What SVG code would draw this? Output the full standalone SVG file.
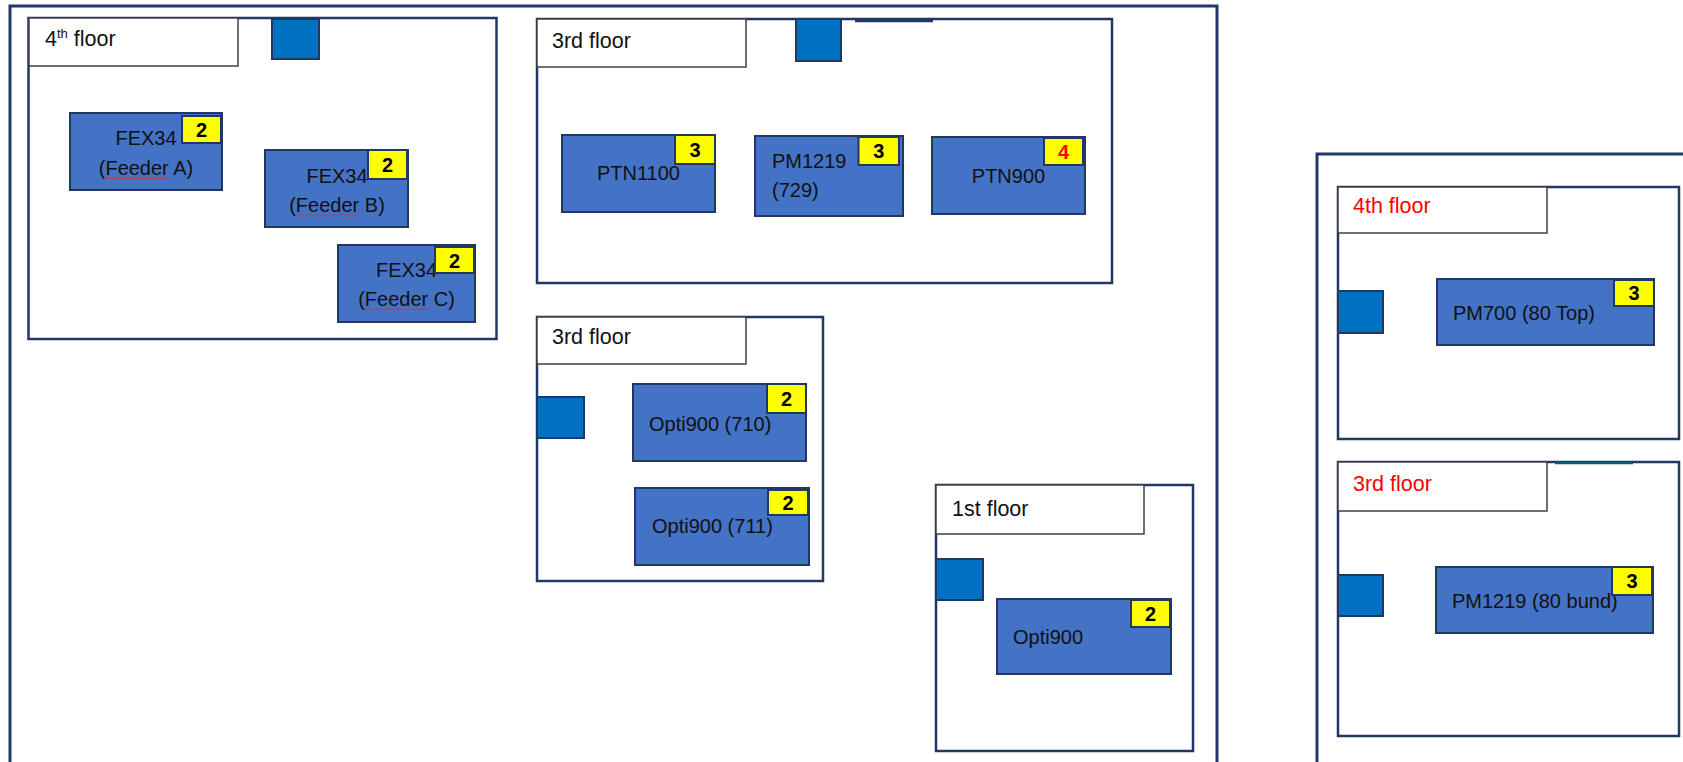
<svg xmlns="http://www.w3.org/2000/svg" width="1683" height="762" viewBox="0 0 1683 762">
<style>
.frame{fill:none;stroke:#1F3864;stroke-width:3}
.floor{fill:#fff;stroke:#1F3864;stroke-width:2.5}
.lbl{fill:#fff;stroke:#404040;stroke-width:1.5}
.sq{fill:#0070C0;stroke:#1F3864;stroke-width:2}
.eq{fill:#4472C4;stroke:#1F3864;stroke-width:2}
.bdg{fill:#FFFF00;stroke:#1F3864;stroke-width:2}
.t{font-family:"Liberation Sans",Arial,sans-serif;font-size:20px;fill:#111}
.lt{font-family:"Liberation Sans",Arial,sans-serif;font-size:21.5px;fill:#111}
.n{font-family:"Liberation Sans",Arial,sans-serif;font-size:20px;font-weight:bold;fill:#000;text-anchor:middle}
.c{text-anchor:middle}
.red{fill:#FF0000}
.sqg{fill:none;stroke:#E03030;stroke-width:1}
</style>
<rect class="frame" x="10" y="6" width="1207" height="800"/>
<rect class="frame" x="1317" y="154" width="420" height="700"/>

<g id="floor4">
<rect class="floor" x="28.5" y="18" width="468" height="321"/>
<rect class="lbl" x="29" y="18" width="209" height="48"/>
<text class="lt" x="45" y="46">4<tspan font-size="13" dy="-8">th</tspan><tspan dy="8"> floor</tspan></text>
<rect class="sq" x="272" y="19" width="47" height="40"/>
</g>
<g id="fex34a">
<rect class="eq" x="70" y="113" width="152" height="77"/>
<text class="t c" x="146" y="145">FEX34</text>
<text class="t c" x="146" y="175">(Feeder A)</text>
<path class="sqg" d="M104 177.5 l2,1.5 2,-1.5 2,1.5 2,-1.5 2,1.5 2,-1.5 2,1.5 2,-1.5 2,1.5 2,-1.5 2,1.5 2,-1.5 2,1.5 2,-1.5 2,1.5 2,-1.5 2,1.5 2,-1.5 2,1.5 2,-1.5 2,1.5 2,-1.5 2,1.5 2,-1.5 2,1.5 2,-1.5 2,1.5 2,-1.5 2,1.5 2,-1.5 2,1.5 2,-1.5"/>
<rect class="bdg" x="182" y="116" width="39" height="27"/>
<text class="n" x="201.5" y="137">2</text>
</g>
<g id="fex34b">
<rect class="eq" x="265" y="150" width="143" height="77"/>
<text class="t c" x="337" y="183">FEX34</text>
<text class="t c" x="337" y="212">(Feeder B)</text>
<path class="sqg" d="M295 214.5 l2,1.5 2,-1.5 2,1.5 2,-1.5 2,1.5 2,-1.5 2,1.5 2,-1.5 2,1.5 2,-1.5 2,1.5 2,-1.5 2,1.5 2,-1.5 2,1.5 2,-1.5 2,1.5 2,-1.5 2,1.5 2,-1.5 2,1.5 2,-1.5 2,1.5 2,-1.5 2,1.5 2,-1.5 2,1.5 2,-1.5 2,1.5 2,-1.5 2,1.5 2,-1.5"/>
<rect class="bdg" x="368" y="150" width="39" height="29"/>
<text class="n" x="387.5" y="172">2</text>
</g>
<g id="fex34c">
<rect class="eq" x="338" y="245" width="137" height="77"/>
<text class="t c" x="406.5" y="277">FEX34</text>
<text class="t c" x="406.5" y="306">(Feeder C)</text>
<path class="sqg" d="M364 308.5 l2,1.5 2,-1.5 2,1.5 2,-1.5 2,1.5 2,-1.5 2,1.5 2,-1.5 2,1.5 2,-1.5 2,1.5 2,-1.5 2,1.5 2,-1.5 2,1.5 2,-1.5 2,1.5 2,-1.5 2,1.5 2,-1.5 2,1.5 2,-1.5 2,1.5 2,-1.5 2,1.5 2,-1.5 2,1.5 2,-1.5 2,1.5 2,-1.5 2,1.5 2,-1.5"/>
<rect class="bdg" x="435" y="247" width="39" height="26"/>
<text class="n" x="454.5" y="267.5">2</text>
</g>

<g id="floor3a">
<rect class="floor" x="537" y="19" width="575" height="264"/>
<line x1="855" y1="21" x2="933" y2="21" stroke="#1F3864" stroke-width="2.5"/>
<rect class="lbl" x="537" y="19" width="209" height="48"/>
<text class="lt" x="552" y="48">3rd floor</text>
<rect class="sq" x="796" y="19" width="45" height="42"/>
</g>
<g id="ptn1100">
<rect class="eq" x="562" y="135" width="153" height="77"/>
<text class="t c" x="638.5" y="180">PTN1100</text>
<rect class="bdg" x="675" y="135" width="40" height="29"/>
<text class="n" x="695" y="157">3</text>
</g>
<g id="pm1219">
<rect class="eq" x="755" y="136" width="148" height="80"/>
<text class="t" x="772" y="168">PM1219</text>
<text class="t" x="772" y="197">(729)</text>
<rect class="bdg" x="858.5" y="137" width="40.5" height="28"/>
<text class="n" x="878.75" y="158">3</text>
</g>
<g id="ptn900">
<rect class="eq" x="932" y="137" width="153" height="77"/>
<text class="t c" x="1008.5" y="183">PTN900</text>
<rect class="bdg" x="1044" y="138" width="39" height="27"/>
<text class="n red" x="1063.5" y="159">4</text>
</g>

<g id="floor3b">
<rect class="floor" x="537" y="317" width="286" height="264"/>
<rect class="lbl" x="537" y="317" width="209" height="47"/>
<text class="lt" x="552" y="344">3rd floor</text>
<rect class="sq" x="537" y="397" width="47" height="41"/>
</g>
<g id="opti710">
<rect class="eq" x="633" y="384" width="173" height="77"/>
<text class="t" x="649" y="431">Opti900 (710)</text>
<rect class="bdg" x="767" y="384" width="39" height="29"/>
<text class="n" x="786.5" y="406">2</text>
</g>
<g id="opti711">
<rect class="eq" x="635" y="488" width="174" height="77"/>
<text class="t" x="652" y="533">Opti900 (711)</text>
<rect class="bdg" x="768" y="490" width="40" height="25"/>
<text class="n" x="788" y="510">2</text>
</g>

<g id="floor1">
<rect class="floor" x="936" y="485" width="257" height="266"/>
<rect class="lbl" x="936" y="485" width="208" height="49"/>
<text class="lt" x="952" y="516">1st floor</text>
<rect class="sq" x="936" y="559" width="47" height="41"/>
</g>
<g id="opti900">
<rect class="eq" x="997" y="599" width="174" height="75"/>
<text class="t" x="1013" y="644">Opti900</text>
<rect class="bdg" x="1131" y="600" width="39" height="27"/>
<text class="n" x="1150.5" y="621">2</text>
</g>

<g id="rfloor4">
<rect class="floor" x="1338" y="187" width="341" height="252"/>
<rect class="lbl" x="1338" y="187" width="209" height="46"/>
<text class="lt red" x="1353" y="213">4th floor</text>
<rect class="sq" x="1338" y="291" width="45" height="42"/>
</g>
<g id="pm700">
<rect class="eq" x="1437" y="279" width="217" height="66"/>
<text class="t" x="1453" y="320">PM700 (80 Top)</text>
<rect class="bdg" x="1614" y="280" width="40" height="26"/>
<text class="n" x="1634" y="300">3</text>
</g>

<g id="rfloor3">
<rect class="floor" x="1338" y="462" width="341" height="274"/>
<line x1="1555" y1="463" x2="1633" y2="463" stroke="#006070" stroke-width="2.5"/>
<rect class="lbl" x="1338" y="462" width="209" height="49"/>
<text class="lt red" x="1353" y="491">3rd floor</text>
<rect class="sq" x="1338" y="575" width="45" height="41"/>
</g>
<g id="pm1219b">
<rect class="eq" x="1436" y="567" width="217" height="66"/>
<text class="t" x="1452" y="608">PM1219 (80 bund)</text>
<rect class="bdg" x="1612" y="567" width="40" height="28"/>
<text class="n" x="1632" y="588">3</text>
</g>

<g id="connectors"></g>
</svg>
